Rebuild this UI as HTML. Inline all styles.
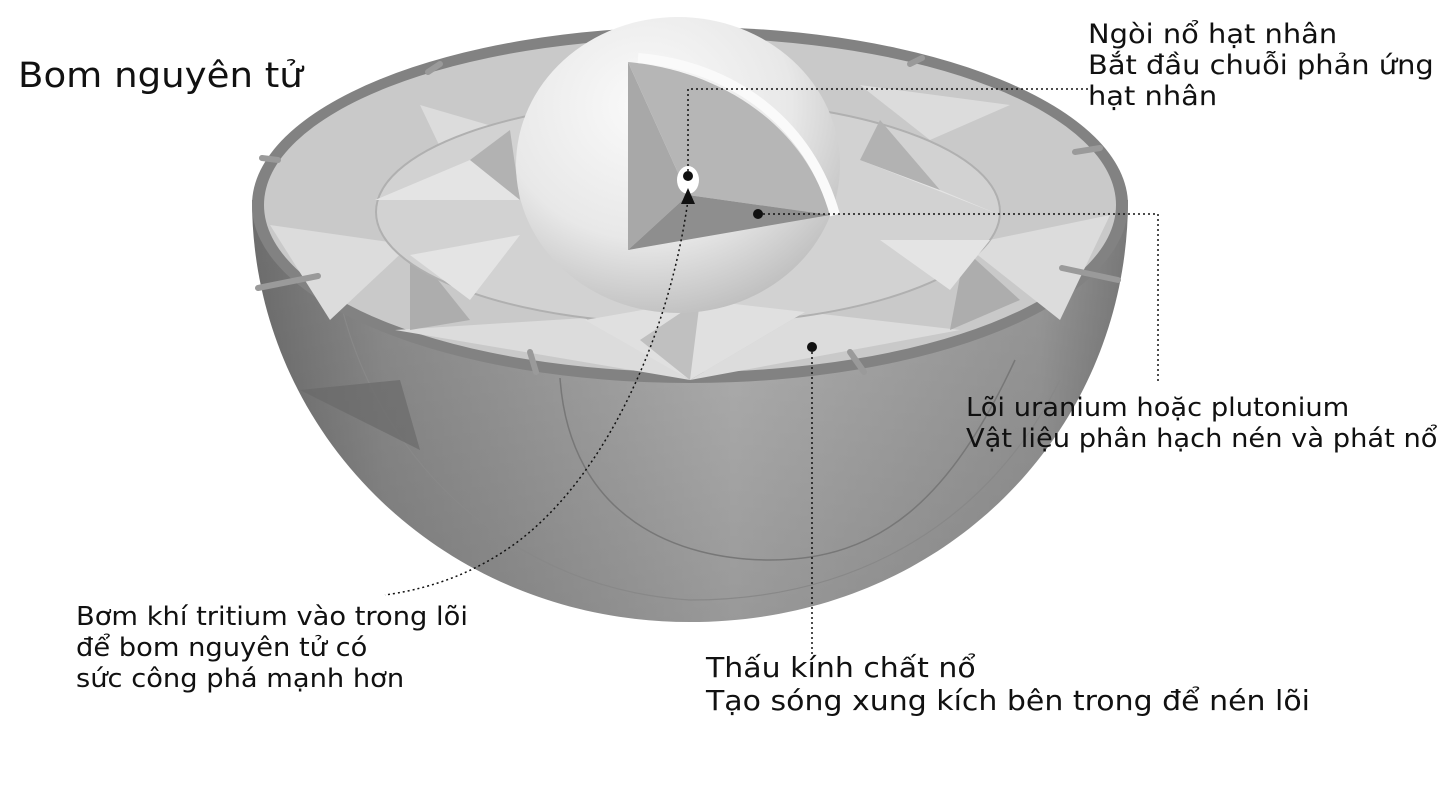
<!DOCTYPE html>
<html><head><meta charset="utf-8"><style>
html,body{margin:0;padding:0;background:#fff;}
.t{position:absolute;font-family:"DejaVu Sans","Liberation Sans",sans-serif;color:#111;white-space:nowrap;transform-origin:0 0;}
</style></head><body>
<div style="position:relative;width:1440px;height:792px;overflow:hidden;">
<svg width="1440" height="792" style="position:absolute;left:0;top:0">
<defs>
<linearGradient id="bowl" x1="0" x2="1" y1="0" y2="0">
<stop offset="0" stop-color="#6e6e6e"/><stop offset="0.15" stop-color="#8e8e8e"/><stop offset="0.55" stop-color="#b4b4b4"/><stop offset="0.9" stop-color="#9a9a9a"/><stop offset="1" stop-color="#7a7a7a"/>
</linearGradient>
<linearGradient id="bowlv" x1="0" x2="0" y1="0" y2="1">
<stop offset="0" stop-color="#000" stop-opacity="0"/><stop offset="1" stop-color="#000" stop-opacity="0.15"/>
</linearGradient>
<radialGradient id="sph" cx="0.4" cy="0.3" r="0.75">
<stop offset="0" stop-color="#fafafa"/><stop offset="0.6" stop-color="#e8e8e8"/><stop offset="1" stop-color="#bcbcbc"/>
</radialGradient>
</defs>
<path d="M252,200 C252,430 440,622 690,622 C945,622 1128,430 1128,200 Z" fill="url(#bowl)"/>
<path d="M252,200 C252,430 440,622 690,622 C945,622 1128,430 1128,200 Z" fill="url(#bowlv)"/>
<path d="M560,378 C570,520 680,560 770,560 C880,560 950,500 1015,360" fill="none" stroke="#777" stroke-width="1.5"/>
<path d="M340,300 C380,470 520,590 690,600 C860,600 990,520 1060,380" fill="none" stroke="#888" stroke-width="1.2"/>
<path d="M300,390 L420,450 L400,380 Z" fill="#6a6a6a" opacity="0.7"/>
<ellipse cx="690" cy="205" rx="438" ry="178" fill="#828282"/>
<ellipse cx="690" cy="205" rx="426" ry="167" fill="#c9c9c9"/>
<g fill="#dcdcdc">
<polygon points="420,105 540,140 470,210"/>
<polygon points="270,225 410,245 330,320"/>
<polygon points="395,330 585,318 690,380"/>
<polygon points="690,380 805,312 960,330"/>
<polygon points="965,245 1110,215 1060,320"/>
<polygon points="860,85 930,140 1010,105"/>
</g>
<g fill="#adadad">
<polygon points="410,245 470,320 410,330"/>
<polygon points="585,318 690,380 700,300"/>
<polygon points="965,250 950,330 1020,300"/>
<polygon points="540,140 600,100 470,210"/>
</g>
<ellipse cx="688" cy="212" rx="312" ry="112" fill="#d2d2d2" stroke="#b0b0b0" stroke-width="2"/>
<g fill="#e4e4e4">
<polygon points="375,200 470,160 520,200"/>
<polygon points="410,255 520,235 470,300"/>
<polygon points="860,160 940,190 1000,215"/>
<polygon points="880,240 990,240 950,290"/>
</g>
<g fill="#b2b2b2">
<polygon points="470,160 520,200 510,130"/>
<polygon points="940,190 860,160 880,120"/>
</g>
<polygon points="585,320 700,300 805,312 690,380" fill="#e0e0e0"/>
<polygon points="690,380 700,300 640,340" fill="#c0c0c0"/>
<!-- sphere -->
<ellipse cx="678" cy="165" rx="162" ry="148" fill="url(#sph)"/>
<!-- cutaway faces -->
<polygon points="628,62 628,250 688,195" fill="#a8a8a8"/>
<path d="M628,62 C720,70 805,125 830,215 L688,195 Z" fill="#b6b6b6"/>
<polygon points="628,250 688,195 830,215" fill="#8e8e8e"/>
<path d="M638,58 C735,66 810,125 835,215" fill="none" stroke="#fafafa" stroke-width="10"/>
<ellipse cx="688" cy="180" rx="11" ry="14" fill="#fff"/>
<g stroke="#9a9a9a" stroke-width="6" stroke-linecap="round">
<line x1="428" y1="72" x2="440" y2="64"/>
<line x1="262" y1="158" x2="278" y2="160"/>
<line x1="258" y1="288" x2="318" y2="276"/>
<line x1="530" y1="352" x2="536" y2="372"/>
<line x1="850" y1="352" x2="864" y2="372"/>
<line x1="1062" y1="268" x2="1118" y2="280"/>
<line x1="1075" y1="152" x2="1100" y2="148"/>
<line x1="910" y1="64" x2="922" y2="58"/>
</g>
<g fill="none" stroke="#111" stroke-width="1.5" stroke-dasharray="2,3">
<polyline points="688,176 688,89 1090,89"/>
<polyline points="758,214 1158,214 1158,383"/>
<line x1="812" y1="347" x2="812" y2="655"/>
<path d="M688,200 C670,330 610,470 520,540 C470,578 420,590 385,595"/>
</g>
<circle cx="688" cy="176" r="5" fill="#111"/>
<circle cx="758" cy="214" r="5" fill="#111"/>
<circle cx="812" cy="347" r="5" fill="#111"/>
<polygon points="688,188 681,204 695,204" fill="#111"/>
</svg>
<div class="t" style="left:18px;top:56px;font-size:35px;transform:scaleX(1.06);">Bom nguyên tử</div>
<div class="t" style="left:1088px;top:19px;font-size:27px;line-height:31px;transform:scaleX(1.07);">Ngòi nổ hạt nhân<br>Bắt đầu chuỗi phản ứng<br>hạt nhân</div>
<div class="t" style="left:966px;top:393px;font-size:26px;line-height:31px;transform:scaleX(1.05);">Lõi uranium hoặc plutonium<br>Vật liệu phân hạch nén và phát nổ</div>
<div class="t" style="left:76px;top:602px;font-size:26px;line-height:31px;transform:scaleX(1.05);">Bơm khí tritium vào trong lõi<br>để bom nguyên tử có<br>sức công phá mạnh hơn</div>
<div class="t" style="left:706px;top:651px;font-size:28px;line-height:33px;transform:scaleX(1.07);">Thấu kính chất nổ<br>Tạo sóng xung kích bên trong để nén lõi</div>
</div>
</body></html>
